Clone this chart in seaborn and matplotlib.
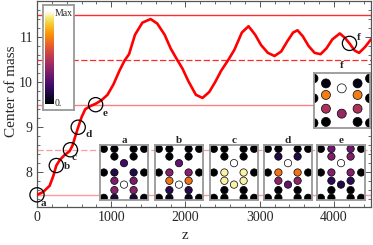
import numpy as np
import pandas as pd
import matplotlib
matplotlib.use("Agg")
import matplotlib.pyplot as plt
import seaborn as sns
from matplotlib.colors import LinearSegmentedColormap
from matplotlib.ticker import AutoMinorLocator

# centre of mass along z
z = [0, 80, 170, 220, 260, 310, 370, 440, 480, 520, 555, 600, 650, 720, 790,
     870, 950, 1030, 1110, 1180, 1240, 1320, 1420, 1530, 1620, 1720, 1800,
     1880, 1960, 2040, 2140, 2230, 2320, 2400, 2480, 2580, 2660, 2760, 2850,
     2940, 3020, 3110, 3200, 3290, 3370, 3450, 3510, 3580, 3660, 3740, 3820,
     3900, 3980, 4080, 4150, 4210, 4280, 4340, 4420, 4500]
com = [7.50, 7.56, 7.70, 7.92, 8.15, 8.28, 8.38, 8.47, 8.60, 8.82, 9.00, 9.22,
       9.40, 9.47, 9.52, 9.60, 9.72, 9.95, 10.25, 10.48, 10.62, 11.05, 11.32,
       11.40, 11.30, 11.05, 10.75, 10.52, 10.30, 10.02, 9.72, 9.65, 9.78,
       10.00, 10.25, 10.50, 10.72, 11.10, 11.24, 11.05, 10.82, 10.65, 10.58,
       10.68, 10.90, 11.10, 11.15, 11.02, 10.80, 10.65, 10.62, 10.75, 10.95,
       11.08, 10.98, 10.86, 10.70, 10.65, 10.78, 10.95]

# marked snapshots
mark_labels = ['a', 'b', 'c', 'd', 'e', 'f']
mark_z = [0, 260, 450, 555, 790, 4210]
mark_com = [7.5, 8.15, 8.5, 9.0, 9.5, 10.86]
mark_offsets = [(4.5, -6), (8, -0.5), (2.5, -5.5), (7.5, -5), (6.5, -6), (6.5, 4)]

# reference levels
solid_levels = [11.5, 9.5, 7.5]
solid_colors = ['#ff2a2a', '#ff8080', '#ff9a9a']
dashed_levels = [10.5, 8.5]
dashed_colors = ['#ff2a2a', '#ff9a9a']

# lattice for insets a-e (x from left, y from top)
site_x = [0.08, 0.3, 0.7, 0.92, 0.3, 0.7, 0.5, 0.08, 0.3, 0.7, 0.92,
          0.3, 0.7, 0.5, 0.3, 0.7, 0.08, 0.3, 0.7, 0.92]
site_y = [0.07, 0.07, 0.07, 0.07, 0.21, 0.21, 0.33, 0.50, 0.50, 0.50, 0.50,
          0.65, 0.65, 0.72, 0.82, 0.82, 0.96, 0.96, 0.96, 0.96]
occ = {
    'a': [0, 0, 0, 0, 0, 0, 0.2, 0, 0.12, 0.12, 0, 0.33, 0.33, 1.0,
          0.36, 0.36, 0, 0.1, 0.1, 0],
    'b': [0, 0, 0, 0, 0, 0, 0.27, 0, 0.36, 0.36, 0, 0.68, 0.68, 1.0,
          0.14, 0.14, 0, 0.05, 0.05, 0],
    'c': [0, 0, 0, 0, 0, 0, 1.0, 0, 0.95, 0.95, 0, 0.95, 0.95, 0.95,
          0, 0, 0, 0, 0, 0],
    'd': [0, 0, 0, 0, 0.12, 0.12, 1.0, 0, 0.68, 0.68, 0, 0.38, 0.38, 0.27,
          0, 0, 0, 0, 0, 0],
    'e': [0, 0.3, 0.3, 0, 0.35, 0.35, 1.0, 0, 0.35, 0.35, 0, 0.15, 0.15, 0.12,
          0, 0, 0, 0, 0, 0],
}
inset_left = {'a': 100, 'b': 155, 'c': 210, 'd': 264, 'e': 317}

# inset f
f_x = [0, 1, 0, 1, 0, 1, 0.22, 0.78, 0.5, 0.22, 0.78, 0.22, 0.78, 0.5, 0.22, 0.78]
f_y = [0.09, 0.09, 0.45, 0.45, 0.9, 0.9, 0.18, 0.18, 0.27, 0.39, 0.39,
       0.64, 0.64, 0.73, 0.88, 0.88]
f_occ = [0, 0, 0, 0, 0, 0, 0.03, 0.03, 1.0, 0.7, 0.7, 0.46, 0.46, 0.4, 0, 0]

sns.set_theme(style="ticks")
plt.rcParams['font.family'] = ['Liberation Serif', 'DejaVu Serif']

inferno = plt.get_cmap('inferno')
cmap = LinearSegmentedColormap.from_list(
    'heat', [inferno(v) for v in np.linspace(0, 0.93, 12)] + ['#ffffff'])

W, H = 373, 245
fig = plt.figure(figsize=(W / 100, H / 100), dpi=100)


def px_axes(x0, y0, x1, y1):
    return fig.add_axes([x0 / W, 1 - y1 / H, (x1 - x0) / W, (y1 - y0) / H])


ax = px_axes(37, 1, 371, 207)

for lev, col in zip(solid_levels, solid_colors):
    ax.axhline(lev, color=col, lw=1.0, zorder=1)
for lev, col in zip(dashed_levels, dashed_colors):
    ax.axhline(lev, color=col, lw=0.9, ls=(0, (5, 2)), zorder=1)

df = pd.DataFrame({'z': z, 'com': com})
sns.lineplot(data=df, x='z', y='com', ax=ax, color='#ff0000', lw=1.9,
             sort=False, estimator=None, zorder=3)

ax.scatter(mark_z, mark_com, s=105, facecolors='none', edgecolors='black',
           linewidths=0.9, zorder=5, clip_on=False)
for lab, mx, my, off in zip(mark_labels, mark_z, mark_com, mark_offsets):
    ax.annotate(lab, (mx, my), xytext=off, textcoords='offset points',
                ha='center', va='center', fontsize=8, fontweight='bold',
                zorder=6)

ax.set_xlim(0, 4500)
ax.set_ylim(7.23, 11.80)
ax.set_xticks([0, 1000, 2000, 3000, 4000])
ax.set_yticks([8, 9, 10, 11])
ax.xaxis.set_minor_locator(AutoMinorLocator(5))
ax.yaxis.set_minor_locator(AutoMinorLocator(5))
ax.tick_params(which='both', direction='in', top=True, right=True,
               color='#555555', labelsize=10, pad=3)
ax.tick_params(which='major', length=4, width=0.7)
ax.tick_params(which='minor', length=2, width=0.6)
for sp in ax.spines.values():
    sp.set_color('#555555')
    sp.set_linewidth(0.9)
ax.set_xlabel('z', fontsize=11)
ax.set_ylabel('Center of mass', fontsize=11)
ax.xaxis.set_label_coords(0.443, -0.105)
ax.yaxis.set_label_coords(-0.058, 0.563)


def draw_inset(rect, xs, ys, vals, size, label, label_xy):
    iax = px_axes(*rect)
    sns.scatterplot(x=xs, y=ys, hue=vals, palette=cmap, hue_norm=(0, 1),
                    s=size, edgecolor='black', linewidth=0.5, legend=False,
                    ax=iax)
    iax.set_xlim(0, 1)
    iax.set_ylim(1, 0)
    iax.set_xticks([])
    iax.set_yticks([])
    iax.set_xlabel('')
    iax.set_ylabel('')
    iax.set_facecolor('white')
    for sp in iax.spines.values():
        sp.set_color('#999999')
        sp.set_linewidth(1.3)
    fig.text(label_xy[0] / W, 1 - label_xy[1] / H, label, ha='center',
             va='center', fontsize=8, fontweight='bold')


for lab in ['a', 'b', 'c', 'd', 'e']:
    x0 = inset_left[lab]
    draw_inset((x0, 145, x0 + 48, 200), site_x, site_y, occ[lab], 28, lab,
               (x0 + 24, 140.5))

draw_inset((313.5, 73.5, 370, 128.5), f_x, f_y, f_occ, 42, 'f', (342, 66))

# colour scale box
box = px_axes(42.5, 5, 73.5, 110)
box.set_xticks([])
box.set_yticks([])
box.set_facecolor('white')
for sp in box.spines.values():
    sp.set_color('#999999')
    sp.set_linewidth(1.3)
cax = px_axes(44.5, 11.5, 53, 104.5)
cax.imshow(np.linspace(0, 1, 256)[:, None], aspect='auto', cmap=cmap,
           origin='lower')
cax.set_xticks([])
cax.set_yticks([])
for sp in cax.spines.values():
    sp.set_visible(False)
fig.text(55 / W, 1 - 14 / H, 'Max', ha='left', va='center', fontsize=7)
fig.text(55 / W, 1 - 104 / H, '0.', ha='left', va='center', fontsize=7)

fig.savefig('out.png', dpi=100)
